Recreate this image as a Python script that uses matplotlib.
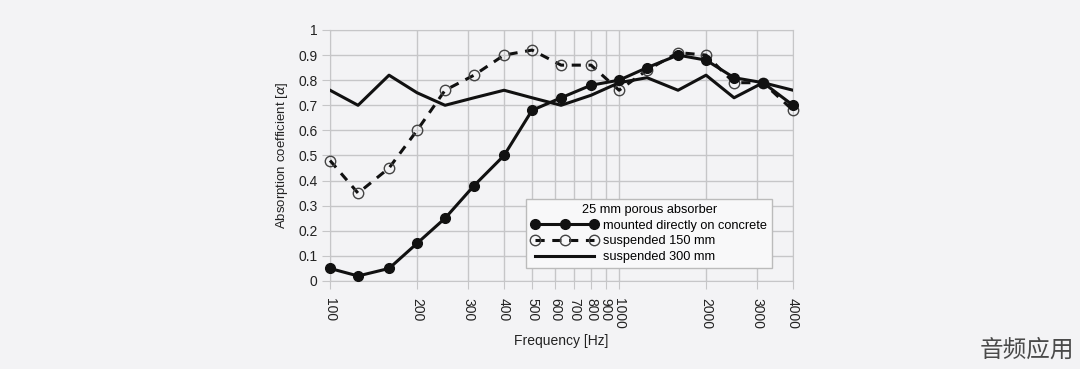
import matplotlib.pyplot as plt
from matplotlib.ticker import FixedLocator, FixedFormatter, NullLocator

plt.rcParams['font.family'] = ['Liberation Sans', 'DejaVu Sans']

# --- Data (1/3 octave bands) ---
freqs = [100, 125, 160, 200, 250, 315, 400, 500, 630, 800, 1000,
         1250, 1600, 2000, 2500, 3150, 4000]
concrete = [0.05, 0.02, 0.05, 0.15, 0.25, 0.38, 0.50, 0.68, 0.73, 0.78, 0.80,
            0.85, 0.90, 0.88, 0.81, 0.79, 0.70]
susp150 = [0.48, 0.35, 0.45, 0.60, 0.76, 0.82, 0.90, 0.92, 0.86, 0.86, 0.76,
           0.84, 0.91, 0.90, 0.79, 0.79, 0.68]
susp300 = [0.76, 0.70, 0.82, 0.75, 0.70, 0.73, 0.76, 0.73, 0.70, 0.74, 0.79,
           0.81, 0.76, 0.82, 0.73, 0.79, 0.76]

xticks = [100, 200, 300, 400, 500, 600, 700, 800, 900, 1000, 2000, 3000, 4000]
yticks = [0, 0.1, 0.2, 0.3, 0.4, 0.5, 0.6, 0.7, 0.8, 0.9, 1.0]
ytick_labels = ['0', '0.1', '0.2', '0.3', '0.4', '0.5', '0.6', '0.7', '0.8', '0.9', '1']

BG = '#f3f3f5'
GRID = '#c6c6c8'
INK = '#111111'

fig = plt.figure(figsize=(10.8, 3.69), dpi=100, facecolor=BG)
ax = fig.add_axes([0.3056, 0.2385, 0.4287, 0.6802], facecolor=BG)

ax.plot(freqs, concrete, color=INK, lw=2.2, marker='o', markersize=7,
        markerfacecolor=INK, markeredgecolor=INK, clip_on=False,
        label='mounted directly on concrete', zorder=4)
ax.plot(freqs, susp150, color=INK, lw=2.2, ls=(0, (3, 2.5)), marker='o',
        markersize=7.5, markerfacecolor='none', markeredgecolor='#444444',
        markeredgewidth=1.0, clip_on=False, label='suspended 150 mm', zorder=3)
ax.plot(freqs, susp300, color=INK, lw=2.2, label='suspended 300 mm', zorder=3)

ax.set_xscale('log')
ax.set_xlim(100, 4000)
ax.set_ylim(0, 1)
ax.xaxis.set_major_locator(FixedLocator(xticks))
ax.xaxis.set_major_formatter(FixedFormatter([str(t) for t in xticks]))
ax.xaxis.set_minor_locator(NullLocator())
ax.yaxis.set_major_locator(FixedLocator(yticks))
ax.yaxis.set_major_formatter(FixedFormatter(ytick_labels))

ax.grid(True, color=GRID, lw=1.0)
ax.set_axisbelow(True)
for s in ax.spines.values():
    s.set_color(GRID)
ax.tick_params(axis='both', direction='out', length=6, color=GRID,
               labelsize=10, labelcolor='#222222', pad=3)
ax.tick_params(axis='x', labelrotation=270, pad=6)

ax.set_xlabel('Frequency [Hz]', fontsize=10, color='#222222', labelpad=4)
ax.set_ylabel(r'Absorption coefficient [$\alpha$]', fontsize=9.5,
              color='#222222', labelpad=6)

leg = ax.legend(title='25 mm porous absorber', loc='lower left',
                bbox_to_anchor=(0.41, 0.025), fontsize=9.2, title_fontsize=9.2,
                numpoints=3, handlelength=5.2, handletextpad=0.4,
                borderpad=0.4, labelspacing=0.3, fancybox=False,
                framealpha=1, facecolor='#f8f8f9', edgecolor='#bbbbbb')
leg.get_frame().set_linewidth(1.0)

fig.text(0.995, 0.02, '音频应用', fontsize=17, color='#4a4a4a', ha='right',
         va='bottom', family=['Noto Sans CJK SC', 'DejaVu Sans'])

fig.savefig('out.png', dpi=100, facecolor=BG)
